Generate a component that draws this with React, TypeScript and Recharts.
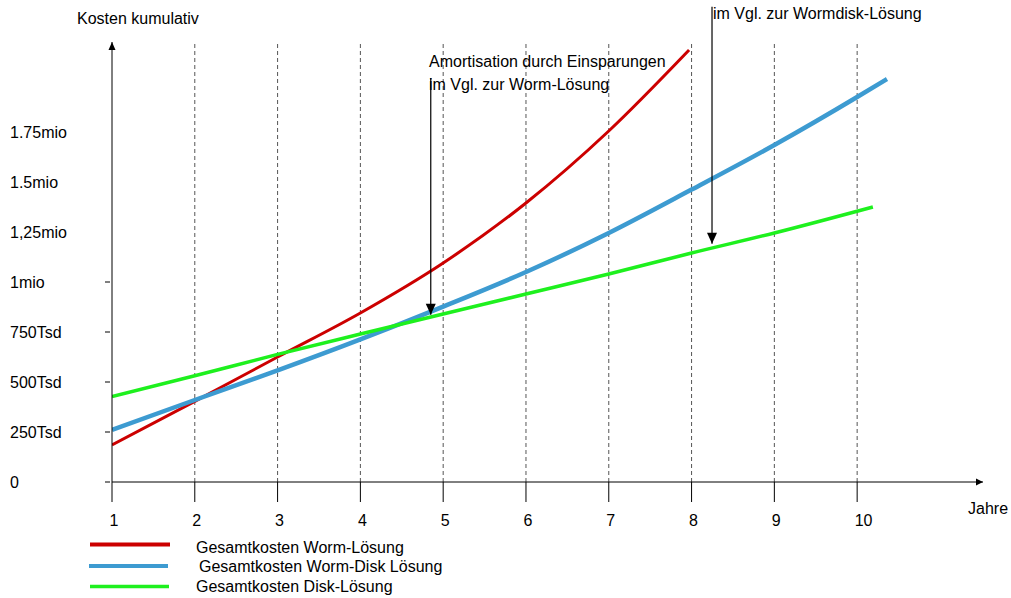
import React from 'react';
import { LineChart, Line, XAxis, YAxis, ReferenceLine, ReferenceDot } from 'recharts';

// Axis ticks
const years = [1, 2, 3, 4, 5, 6, 7, 8, 9, 10];
const gridYears = [2, 3, 4, 5, 6, 7, 8, 9, 10];
const yTicks = [0, 250000, 500000, 750000, 1000000, 1250000, 1500000, 1750000];
const yTickLabels = ['0', '250Tsd', '500Tsd', '750Tsd', '1mio', '1,25mio', '1.5mio', '1.75mio'];

// Series
const wormYears = [1, 2, 3, 4, 5, 6, 7, 7.97];
const wormCosts = [185000, 403000, 625000, 845000, 1095000, 1395000, 1755000, 2160000];
const wormDiskYears = [1, 2, 3, 4, 5, 6, 7, 8, 9, 10, 10.36];
const wormDiskCosts = [261000, 410000, 558000, 713000, 877000, 1050000, 1245000, 1462000, 1685000, 1925000, 2015000];
const diskYears = [1, 2, 3, 4, 5, 6, 7, 8, 9, 10.19];
const diskCosts = [427000, 531000, 638000, 740000, 840000, 940000, 1040000, 1145000, 1245000, 1375000];

const seriesNames = ['Gesamtkosten Worm-Lösung', 'Gesamtkosten Worm-Disk Lösung', 'Gesamtkosten Disk-Lösung'];
const seriesColors = ['#cc0000', '#3d9bd1', '#1ef01e'];

// Arrows: year position, start value, tip value
const arrowYears = [4.85, 8.247];
const arrowTops = [2020000, 2376000];
const arrowTips = [836000, 1191000];

const FONT = '"Liberation Sans", Arial, sans-serif';

const toRows = (xs: number[], ys: number[]) => xs.map((x, i) => ({ x, y: ys[i] }));
const wormData = toRows(wormYears, wormCosts);
const wormDiskData = toRows(wormDiskYears, wormDiskCosts);
const diskData = toRows(diskYears, diskCosts);

const YearTick = ({ x, y, payload }: any) => (
  <g>
    <line x1={x} y1={y} x2={x} y2={y + 20} stroke="#000" strokeWidth={1} />
    <text x={x - 2.5} y={y + 44} fontSize={16} fontFamily={FONT} fill="#000">
      {payload.value}
    </text>
  </g>
);

const CostTick = ({ x, y, payload }: any) => {
  const idx = yTicks.indexOf(payload.value);
  return (
    <g>
      {payload.value <= 1000000 && (
        <line x1={x - 7} y1={y} x2={x - 2} y2={y} stroke="#000" strokeWidth={1} />
      )}
      <text x={x - 102} y={y + 5.5} fontSize={16} fontFamily={FONT} fill="#000">
        {yTickLabels[idx]}
      </text>
    </g>
  );
};

const ArrowDown = ({ cx, cy }: any) => (
  <polygon points={`${cx - 5},${cy - 11} ${cx + 5},${cy - 11} ${cx},${cy}`} fill="#000" />
);
const ArrowUp = ({ cx, cy }: any) => (
  <polygon points={`${cx - 3.5},${cy + 8} ${cx + 3.5},${cy + 8} ${cx},${cy}`} fill="#000" />
);
const ArrowRight = ({ cx, cy }: any) => (
  <polygon points={`${cx - 7},${cy - 3.5} ${cx - 7},${cy + 3.5} ${cx},${cy}`} fill="#000" />
);

export default function App() {
  return (
    <div style={{ position: 'absolute', left: 0, top: 0, width: 1011, height: 598, background: '#fff' }}>
      <LineChart
        width={1011}
        height={598}
        margin={{ top: 42, right: 28, bottom: 86, left: 52 }}
      >
        <XAxis
          dataKey="x"
          type="number"
          domain={[1, 11.52]}
          ticks={years}
          interval={0}
          height={30}
          tickSize={0}
          tickMargin={0}
          tickLine={false}
          axisLine={{ stroke: '#000', strokeWidth: 1 }}
          tick={<YearTick />}
          allowDataOverflow
        />
        <YAxis
          type="number"
          domain={[0, 2200000]}
          ticks={yTicks}
          interval={0}
          width={60}
          tickSize={0}
          tickMargin={0}
          tickLine={false}
          axisLine={{ stroke: '#000', strokeWidth: 1 }}
          tick={<CostTick />}
          allowDataOverflow
        />
        {gridYears.map((yr) => (
          <ReferenceLine key={yr} x={yr} stroke="#555" strokeDasharray="4 3" strokeWidth={1} />
        ))}
        <Line
          data={wormData}
          dataKey="y"
          name={seriesNames[0]}
          type="monotone"
          stroke={seriesColors[0]}
          strokeWidth={3}
          dot={false}
          isAnimationActive={false}
        />
        <Line
          data={wormDiskData}
          dataKey="y"
          name={seriesNames[1]}
          type="monotone"
          stroke={seriesColors[1]}
          strokeWidth={4.5}
          dot={false}
          isAnimationActive={false}
        />
        <Line
          data={diskData}
          dataKey="y"
          name={seriesNames[2]}
          type="monotone"
          stroke={seriesColors[2]}
          strokeWidth={3.5}
          dot={false}
          isAnimationActive={false}
        />
        {arrowYears.map((ax, i) => (
          <ReferenceLine
            key={'a' + i}
            segment={[{ x: ax, y: arrowTops[i] }, { x: ax, y: arrowTips[i] }]}
            stroke="#000"
            strokeWidth={1.2}
            ifOverflow="visible"
          />
        ))}
        {arrowYears.map((ax, i) => (
          <ReferenceDot key={'h' + i} x={ax} y={arrowTips[i]} r={5} ifOverflow="visible" shape={<ArrowDown />} />
        ))}
        <ReferenceDot x={1} y={2200000} r={4} ifOverflow="visible" shape={<ArrowUp />} />
        <ReferenceDot x={11.52} y={0} r={4} ifOverflow="visible" shape={<ArrowRight />} />
      </LineChart>

      <svg
        width={1011}
        height={598}
        style={{ position: 'absolute', left: 0, top: 0, pointerEvents: 'none' }}
        fontFamily={FONT}
        fontSize={16}
      >
        <text x={77} y={24} fill="#000">Kosten kumulativ</text>
        <text x={968} y={514} fill="#000">Jahre</text>
        <text x={429} y={66.5} fill="#000">Amortisation durch Einsparungen</text>
        <text x={429} y={90} fill="#000">im Vgl. zur Worm-Lösung</text>
        <text x={713} y={18.5} fill="#000">im Vgl. zur Wormdisk-Lösung</text>

        <line x1={90} y1={544.5} x2={170} y2={544.5} stroke={seriesColors[0]} strokeWidth={4} />
        <text x={196} y={552.5} fill="#000">{seriesNames[0]}</text>
        <line x1={89} y1={566} x2={168} y2={566} stroke={seriesColors[1]} strokeWidth={4} />
        <text x={199} y={571.5} fill="#000">{seriesNames[1]}</text>
        <line x1={90} y1={586.5} x2={169} y2={586.5} stroke={seriesColors[2]} strokeWidth={3.5} />
        <text x={196} y={591.5} fill="#000">{seriesNames[2]}</text>
      </svg>
    </div>
  );
}
